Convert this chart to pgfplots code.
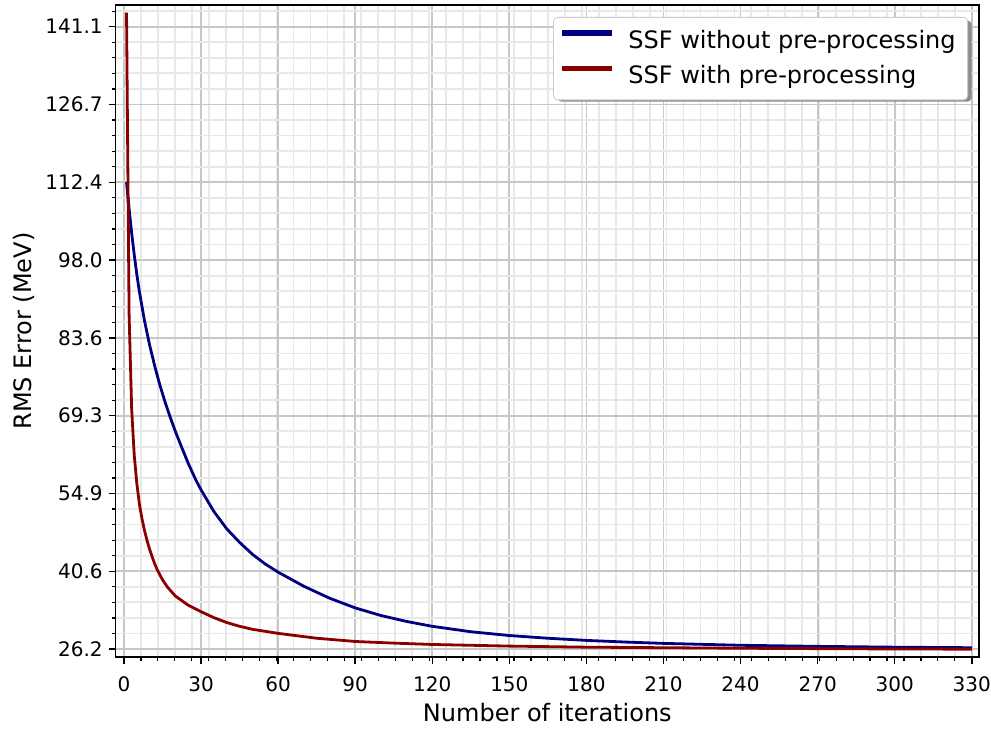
\documentclass[border=0pt]{standalone}
\usepackage{fontspec}
\setmainfont{DejaVu Sans}
\usepackage{pgfplots}
\pgfplotsset{compat=1.18}
\definecolor{cblue}{HTML}{000080}
\definecolor{cred}{HTML}{880000}
\begin{document}
\begin{tikzpicture}
\begin{axis}[
  scale only axis, width=431.5pt, height=326pt,
  xmin=-3.2, xmax=332.8, ymin=24.7, ymax=145.1,
  xtick={0,30,...,330},
  minor xtick={0,6.6,...,331},
  ytick={26.2,40.5625,54.925,69.2875,83.65,98.0125,112.375,126.7375,141.1},
  yticklabels={26.2,40.6,54.9,69.3,83.6,98.0,112.4,126.7,141.1},
  minor ytick={26.2,29.0725,...,145},
  grid=both,
  major grid style={draw=black!22, line width=0.9pt},
  minor grid style={draw=black!9, line width=0.9pt},
  axis line style={line width=0.75pt},
  tick align=outside,
  xtick pos=left, ytick pos=left,
  major tick length=3.5pt, minor tick length=2pt,
  major tick style={black, line width=0.75pt},
  minor tick style={black, line width=0.6pt},
  tick label style={font=\fontsize{10}{12}\selectfont},
  xticklabel style={yshift=-2.5pt},
  yticklabel style={xshift=0.5pt},
  /pgf/number format/assume math mode=true,
  label style={font=\fontsize{12}{14}\selectfont},
  xlabel={Number of iterations}, ylabel={RMS Error (MeV)},
  xlabel style={at={(axis description cs:0.5,-0.099)}, anchor=base},
  ylabel style={at={(axis description cs:-0.1068,0.5)}, anchor=center},
  legend cell align=left,
  legend style={at={(1,1)}, anchor=north east, xshift=-5.5pt, yshift=-6pt,
    draw=black!20, fill=white, rounded corners=2pt,
    font=\fontsize{12}{14}\selectfont, inner xsep=4pt, inner ysep=4.5pt,
    row sep=3pt,
    /tikz/every odd column/.append style={column sep=6pt}},
  legend image code/.code={\fill[sharp corners, #1] (0pt,3.2pt) rectangle (24pt,4.6pt);},
  before end axis/.code={
    \fill[black!45, rounded corners=2pt]
      ([xshift=-210.7pt, yshift=-48.3pt]rel axis cs:1,1) rectangle
      ([xshift=-3.7pt, yshift=-7.8pt]rel axis cs:1,1);
  },
]
\addplot[cblue, line width=1.4pt] coordinates {
(1,112.4)(2,107.5)(3,103.0)(4,99.0)(5,95.4)(6,92.2)(8,86.8)(10,82.3)(12,78.4)
(14,74.9)(16,71.8)(18,69.0)(20,66.4)(22,64.0)(25,60.5)(28,57.4)(30,55.6)
(35,51.6)(40,48.4)(45,45.9)(50,43.7)(55,41.9)(60,40.4)(70,37.8)(80,35.6)
(90,33.8)(100,32.4)(110,31.3)(120,30.4)(135,29.4)(150,28.7)(165,28.2)
(180,27.8)(195,27.5)(210,27.25)(240,26.9)(270,26.7)(300,26.55)(330,26.45)
};
\addlegendentry{SSF without pre-processing}
\addplot[cred, line width=1.4pt] coordinates {
(1,143.7)(2,88.0)(3,70.5)(4,62.0)(5,56.8)(6,53.0)(7,50.3)(8,48.1)(9,46.2)
(10,44.6)(11,43.2)(12,41.9)(13,40.8)(14,39.9)(15,39.0)(17,37.6)(20,36.0)
(25,34.3)(30,33.1)(35,32.0)(40,31.1)(45,30.4)(50,29.85)(60,29.1)(75,28.2)(90,27.6)
(105,27.3)(120,27.05)(150,26.75)(180,26.55)(210,26.45)(240,26.35)(270,26.28)
(300,26.22)(330,26.18)
};
\addlegendentry{SSF with pre-processing}
\end{axis}
\pgfresetboundingbox
\path ([shift={(-57.85pt,-35.5pt)}]current axis.south west) rectangle ([shift={(6pt,2.5pt)}]current axis.north east);
\end{tikzpicture}
\end{document}
